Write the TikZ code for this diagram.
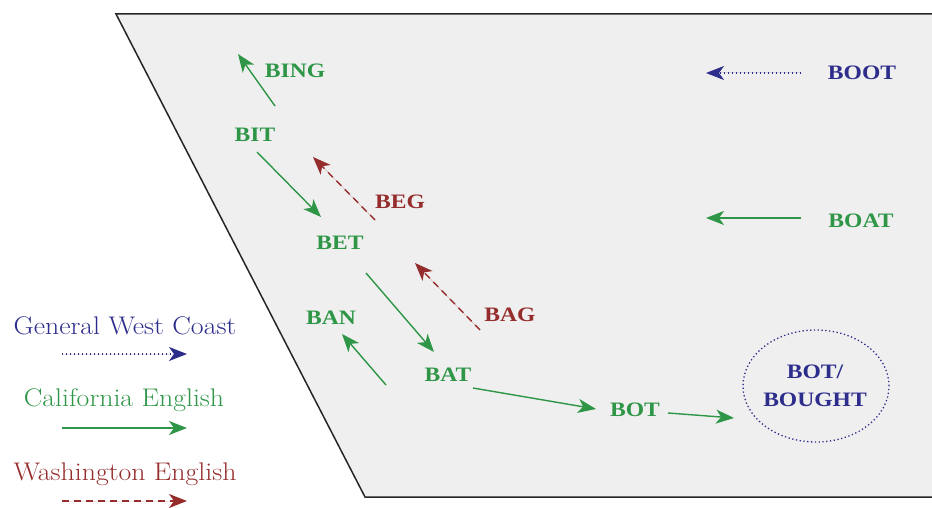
\documentclass[tikz,border=0pt]{standalone}
\usepackage{fontspec}
\setmainfont{Latin Modern Roman}
\newfontfamily\lblfont[FakeStretch=1.15]{Liberation Serif}
\newfontfamily\legfont[FakeStretch=1.09]{Latin Modern Roman}
\usetikzlibrary{arrows.meta,shapes.geometric}
\definecolor{cgreen}{RGB}{46,150,70}
\definecolor{cblue}{RGB}{45,45,140}
\definecolor{cred}{RGB}{150,45,45}
\definecolor{cfill}{RGB}{239,239,239}
\tikzset{
  lbl/.style={font=\lblfont\fontsize{20.5}{22}\selectfont\bfseries, inner sep=0pt},
  leg/.style={font=\legfont\fontsize{25.5}{27}\selectfont, inner sep=0pt},
  tip/.style={-{Stealth[length=18pt,width=14pt,inset=5pt]}},
  cal/.style={tip, draw=cgreen, fill=cgreen, line width=1.4pt},
  was/.style={tip, draw=cred, fill=cred, line width=1.4pt, dash pattern=on 7pt off 5pt},
  gwc/.style={tip, draw=cblue, fill=cblue, line width=1.3pt, dash pattern=on 1.3pt off 2.7pt},
}
\begin{document}
\begin{tikzpicture}[x=1pt,y=-1pt]
\useasboundingbox (0,0) rectangle (932,508);
\draw[fill=cfill, draw=black!85, line width=1.5pt] (116,14) -- (934,14) -- (934,497) -- (365,497) -- cycle;
% labels
\node[lbl, text=cgreen] (bing) at (295,71) {BING};
\node[lbl, text=cgreen] (bit) at (255,135) {BIT};
\node[lbl, text=cred] (beg) at (400,202) {BEG};
\node[lbl, text=cgreen] (bet) at (340,243) {BET};
\node[lbl, text=cgreen] (ban) at (331,318) {BAN};
\node[lbl, text=cred] (bag) at (510,315) {BAG};
\node[lbl, text=cgreen] (bat) at (448,375) {BAT};
\node[lbl, text=cgreen] (bot) at (635,410) {BOT};
\node[lbl, text=cblue] (boot) at (862,73) {BOOT};
\node[lbl, text=cgreen] (boat) at (861,221) {BOAT};
\node[lbl, text=cblue, align=center, font=\lblfont\fontsize{20.5}{28}\selectfont\bfseries] (bb) at (815,386) {BOT/\\BOUGHT};
\node[draw=cblue, line width=1.3pt, dash pattern=on 1.3pt off 2.5pt, ellipse, minimum width=146pt, minimum height=112pt] (ring) at (816,386) {};
% arrow endpoints
\coordinate (a1) at (275,106); \coordinate (a2) at (238,54);
\coordinate (b1) at (257,152); \coordinate (b2) at (321,217);
\coordinate (c1) at (375,220); \coordinate (c2) at (313,157);
\coordinate (d1) at (366,273); \coordinate (d2) at (434,352);
\coordinate (e1) at (480,330); \coordinate (e2) at (415,263);
\coordinate (f1) at (386,385); \coordinate (f2) at (342,334);
\coordinate (g1) at (473,388); \coordinate (g2) at (596,409);
\coordinate (h1) at (668,413); \coordinate (h2) at (734,418);
\coordinate (i1) at (801,73); \coordinate (i2) at (706,73);
\coordinate (j1) at (801,218); \coordinate (j2) at (706,218);
\draw[cal] (a1) -- (a2);
\draw[cal] (b1) -- (b2);
\draw[was] (c1) -- (c2);
\draw[cal] (d1) -- (d2);
\draw[was] (e1) -- (e2);
\draw[cal] (f1) -- (f2);
\draw[cal] (g1) -- (g2);
\draw[cal] (h1) -- (h2);
\draw[gwc] (i1) -- (i2);
\draw[cal] (j1) -- (j2);
% legend
\node[leg, text=cblue] (lg1) at (125,326) {General West Coast};
\node[leg, text=cgreen] (lg2) at (124,400) {California English};
\node[leg, text=cred] (lg3) at (125,474) {Washington English};
\coordinate (l1a) at (62,354); \coordinate (l1b) at (187,354);
\coordinate (l2a) at (62,428); \coordinate (l2b) at (187,428);
\coordinate (l3a) at (62,501); \coordinate (l3b) at (187,501);
\draw[gwc] (l1a) -- (l1b);
\draw[cal] (l2a) -- (l2b);
\draw[was] (l3a) -- (l3b);
\end{tikzpicture}
\end{document}
